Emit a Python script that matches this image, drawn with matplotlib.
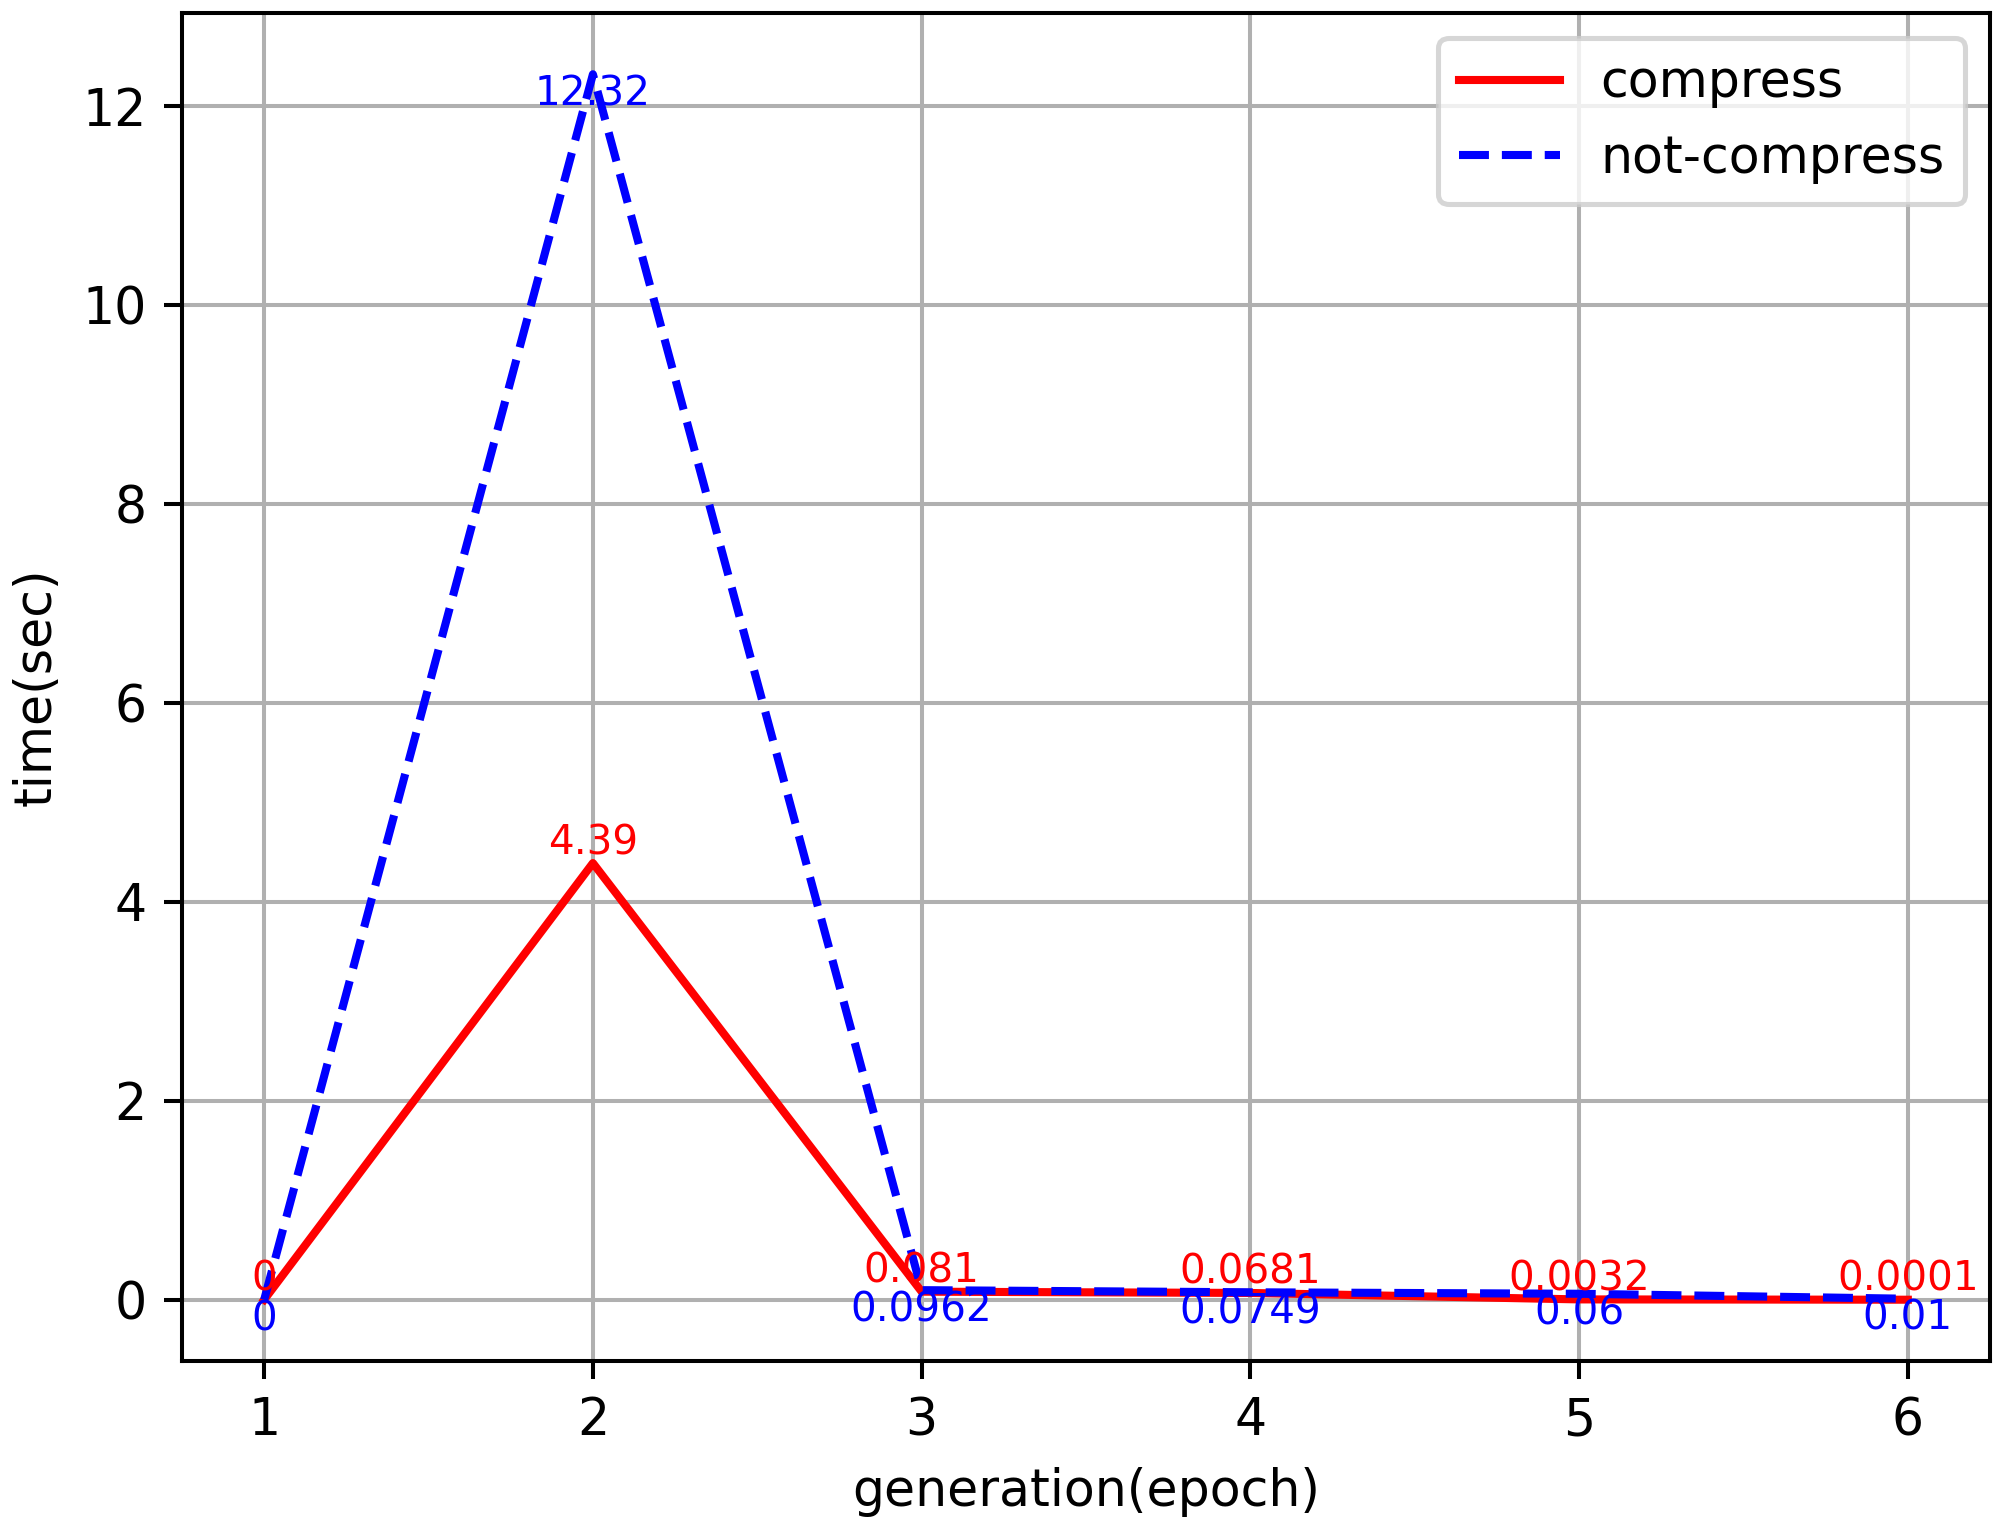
import matplotlib
matplotlib.use('Agg')
import matplotlib.pyplot as plt

epochs = [1, 2, 3, 4, 5, 6]
compress = [0, 4.39, 0.081, 0.0681, 0.0032, 0.0001]
not_compress = [0, 12.32, 0.0962, 0.0749, 0.06, 0.01]

dpi = 364
fig = plt.figure(figsize=(2000 / dpi, 1525 / dpi), dpi=dpi)
ax = fig.add_axes([182 / 2000, 1 - 1361 / 1525, (1990 - 182) / 2000, (1361 - 13) / 1525])

ax.plot(epochs, compress, color='red', linestyle='-', linewidth=1.6, label='compress')
ax.plot(epochs, not_compress, color='blue', linestyle='--', linewidth=1.6, label='not-compress')

# values: red above the point, blue below
for x, y in zip(epochs, compress):
    ax.text(x, y, f'{y}', color='red', fontsize=8, ha='center', va='bottom')
for x, y in zip(epochs, not_compress):
    ax.text(x, y, f'{y}', color='blue', fontsize=8, ha='center', va='top')

ax.set_xlabel('generation(epoch)')
ax.set_ylabel('time(sec)')
ax.legend(loc='upper right')
ax.grid(True)

fig.savefig('out.png', dpi=dpi)
